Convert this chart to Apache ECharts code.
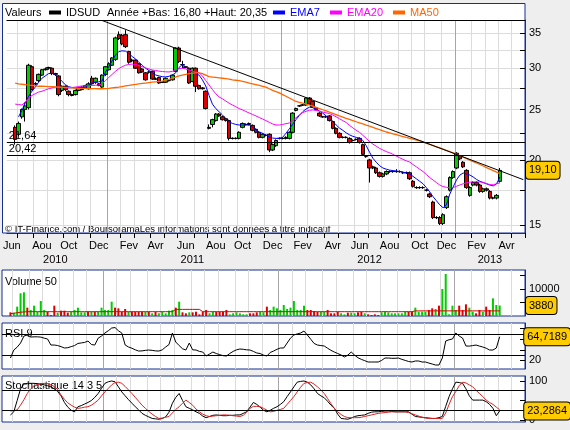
<!DOCTYPE html>
<html>
<head>
<meta charset="utf-8">
<title>IDSUD</title>
<script src="https://cdn.jsdelivr.net/npm/echarts@6.0.0/dist/echarts.min.js"></script>
<style>
  html, body { margin: 0; padding: 0; background: #eeeeee; }
  #chart { width: 570px; height: 430px; }
</style>
</head>
<body>
<div id="chart"></div>
<script>
// hebdo IDSUD, semaines a partir du lundi 7 juin 2010
const weekCount = 155
const monthNames = ['Jan','Fev','Mar','Avr','Mai','Jun','Jul','Aou','Sep','Oct','Nov','Dec']

const opens = [null,null,23.1,22.4,24.2,25.0,25.2,30.2,28.0,28.4,
29.1,29.8,30.0,30.0,29.3,29.0,27.2,27.7,27.1,26.7,
26.7,27.2,27.3,27.5,27.4,28.7,28.2,28.0,27.6,29.2,
29.8,30.4,31.2,34.8,34.7,34.8,32.3,31.0,31.1,30.6,
29.9,29.4,29.5,29.6,28.6,28.8,28.2,28.2,28.4,28.5,
29.6,32.8,30.5,30.2,30.0,28.3,30.0,27.8,27.5,27.1,
23.1,23.4,23.8,24.5,24.2,24.0,23.8,22.0,22.0,22.0,
23.1,23.4,23.4,23.3,22.9,22.6,22.1,22.3,22.4,20.9,
21.3,22.0,22.0,22.0,22.0,22.6,24.9,25.4,25.5,25.5,
26.3,25.9,25.2,24.6,24.2,24.2,24.3,23.7,23.0,22.5,
22.1,22.1,22.0,21.8,21.9,22.0,21.4,20.3,20.0,19.4,
19.3,18.9,18.6,18.8,19.0,19.0,19.0,19.0,18.9,18.9,
18.9,18.2,17.7,17.7,17.7,17.5,17.2,16.6,15.5,15.5,
15.1,16.2,17.5,18.5,19.3,20.35,19.8,19.1,17.1,17.9,
18.1,17.9,17.4,17.6,17.4,16.9,16.9,18.2]
const closes = [null,null,21.9,23.5,25.0,25.4,30.4,27.3,28.0,29.2,
29.8,29.9,30.1,29.3,29.2,26.7,27.7,27.3,26.7,26.6,
27.2,27.5,27.6,27.8,28.0,28.0,28.7,27.8,29.1,30.2,
30.6,31.4,34.3,34.2,33.4,33.0,30.8,31.1,30.0,29.4,
29.5,28.5,29.5,28.6,28.6,28.1,28.2,28.7,28.4,29.1,
32.8,30.9,30.5,30.1,28.1,30.0,27.7,27.4,27.4,25.1,
23.0,23.9,24.5,24.3,23.9,23.8,22.0,22.0,22.0,22.6,
23.5,23.4,23.5,22.8,22.6,22.1,22.4,22.3,20.9,21.4,
21.8,22.0,22.0,22.1,22.6,24.6,25.1,25.4,25.5,26.3,
25.6,25.3,25.0,24.3,24.2,24.2,23.8,23.0,22.5,22.1,
22.1,22.1,21.6,21.8,21.9,21.6,20.5,20.3,19.3,19.3,
18.9,18.6,18.8,19.0,19.0,19.0,19.0,19.0,18.9,18.9,
18.4,17.8,17.7,17.7,17.7,17.5,17.0,15.5,15.5,15.1,
15.7,17.0,18.5,19.0,20.6,20.1,19.4,17.7,17.7,18.1,
17.9,17.4,17.6,17.5,16.9,16.9,17.1,19.1]
const lows = [null,null,21.4,22.2,24.0,23.7,25.0,27.2,27.8,28.2,
29.0,29.7,29.8,29.1,29.0,26.5,27.0,27.1,26.5,26.5,
26.6,27.1,27.2,27.4,27.3,27.9,28.0,27.7,27.5,29.0,
29.7,30.3,31.0,34.0,33.2,32.8,30.6,30.8,29.9,29.3,
29.4,28.4,29.3,28.5,28.5,28.0,28.1,28.1,28.3,28.4,
29.5,30.7,30.0,30.0,28.0,28.2,27.0,27.3,27.3,25.0,
22.9,23.1,23.7,24.2,23.8,23.7,21.8,21.9,21.9,21.9,
23.0,23.3,23.3,22.7,22.5,22.0,22.0,22.2,20.7,20.8,
21.2,21.9,21.9,21.9,21.9,22.5,24.8,25.3,25.4,25.4,
25.5,25.2,24.9,24.2,24.1,24.1,23.7,22.9,22.4,22.0,
22.0,22.0,21.5,21.7,21.8,21.5,20.4,20.2,18.1,19.2,
18.8,18.5,18.5,18.7,18.9,18.9,18.9,18.9,18.8,18.8,
18.3,17.7,17.6,17.6,17.6,17.4,16.9,15.4,15.4,15.0,
15.0,16.1,17.4,18.4,19.2,20.0,19.3,17.6,17.0,17.8,
17.8,17.3,17.3,17.4,16.8,16.8,16.8,18.1]
const highs = [null,null,23.3,23.7,25.1,25.8,30.6,30.4,28.2,29.3,
29.9,30.1,30.2,30.1,29.4,29.1,27.8,27.8,27.2,26.8,
27.3,27.6,27.7,27.9,28.2,29.0,28.8,28.1,29.2,30.3,
30.8,31.5,34.5,35.3,34.9,35.5,32.4,31.3,31.2,30.7,
30.0,29.5,29.7,29.7,28.8,28.9,28.3,28.8,28.5,29.2,
32.9,33.0,31.0,30.3,30.1,30.1,30.1,27.9,27.6,27.2,
23.4,24.0,24.6,24.6,24.3,24.1,23.9,22.1,22.1,22.7,
23.6,23.5,23.6,23.4,23.0,22.7,22.5,22.4,22.5,21.5,
21.9,22.1,22.1,22.2,22.7,24.7,25.2,25.5,25.6,26.4,
26.4,26.0,25.3,24.7,24.3,24.3,24.4,23.8,23.1,22.6,
22.2,22.2,22.1,21.9,22.0,22.1,21.5,20.4,20.1,19.5,
19.4,19.0,18.9,19.1,19.1,19.1,19.2,19.1,19.0,19.0,
19.0,18.3,17.8,17.8,17.8,17.6,17.3,16.7,15.6,15.6,
15.8,17.1,18.6,19.1,20.7,20.35,19.9,19.2,17.8,18.2,
18.2,18.0,17.7,17.7,17.5,17.0,17.2,19.3]

const ema7 = [null,null,null,24.2,24.9,25.7,26.5,27.1,27.6,28.2,
28.7,29.0,29.3,29.35,29.15,28.8,28.3,27.9,27.65,27.55,
27.5,27.5,27.55,27.62,27.85,28.1,28.2,28.25,28.35,29.5,
30.2,31.0,31.8,32.3,32.4,32.35,32.0,31.6,31.25,30.8,
30.4,30.0,29.7,29.4,29.12,29.0,28.9,28.87,28.95,29.1,
29.4,30.1,30.5,30.2,29.77,29.5,29.3,29.1,28.5,27.74,
26.6,25.6,25.1,24.75,24.4,24.0,23.66,23.5,23.4,23.34,
23.34,23.34,23.34,23.1,22.85,22.63,22.5,22.33,22.15,22.03,
22.0,22.0,22.1,22.5,22.95,23.4,23.9,24.35,24.75,25.05,
25.25,25.2,25.0,24.83,24.6,24.3,24.0,23.7,23.35,23.03,
22.8,22.55,22.35,22.2,22.1,22.03,21.8,21.3,20.7,20.15,
19.8,19.5,19.3,19.2,19.12,19.08,19.05,19.0,18.95,18.9,
18.8,18.6,18.4,18.2,18.0,17.7,17.37,17.0,16.7,16.4,
16.19,16.4,17.2,17.75,18.3,18.7,18.88,18.8,18.71,18.55,
18.35,18.2,18.1,17.99,17.9,17.83,18.0,18.55]
const ema20 = [null,null,25.6,25.55,25.5,25.8,26.3,26.6,26.8,27.0,
27.1,27.25,27.4,27.5,27.6,27.6,27.55,27.52,27.5,27.55,
27.6,27.68,27.74,27.76,27.78,27.8,27.82,27.85,28.0,28.4,
28.8,29.2,29.6,29.95,30.2,30.4,30.5,30.55,30.5,30.35,
30.2,30.05,29.9,29.77,29.7,29.62,29.57,29.53,29.51,29.6,
29.8,29.95,30.0,29.9,29.75,29.6,29.5,29.4,29.0,28.4,
27.86,27.3,26.8,26.42,26.2,25.95,25.7,25.5,25.3,25.1,
24.95,24.78,24.61,24.45,24.3,24.13,23.97,23.8,23.62,23.45,
23.34,23.34,23.4,23.48,23.55,23.8,24.1,24.4,24.65,24.8,
24.9,24.95,24.9,24.82,24.72,24.63,24.55,24.4,24.2,24.0,
23.8,23.6,23.3,23.05,22.8,22.6,22.3,22.0,21.7,21.45,
21.25,21.05,20.9,20.75,20.65,20.5,20.35,20.2,20.05,19.92,
19.82,19.6,19.4,19.2,19.0,18.75,18.5,18.3,18.1,17.9,
17.78,17.72,17.68,17.7,17.8,17.9,18.0,18.08,18.13,18.15,
18.15,18.15,18.1,18.02,17.93,17.92,18.0,18.07]
const ma50 = [null,null,28.1,28.0,27.95,27.9,27.85,27.8,27.75,27.7,
27.7,27.68,27.66,27.64,27.62,27.6,27.58,27.56,27.53,27.5,
27.48,27.46,27.45,27.44,27.43,27.42,27.41,27.4,27.4,27.42,
27.45,27.5,27.55,27.6,27.67,27.74,27.8,27.87,27.93,28.0,
28.05,28.1,28.15,28.2,28.25,28.3,28.35,28.45,28.55,28.7,
28.85,29.0,29.1,29.2,29.28,29.34,29.38,29.4,29.3,29.1,
28.9,28.85,28.8,28.75,28.7,28.65,28.6,28.5,28.45,28.4,
28.3,28.2,28.1,28.0,27.9,27.8,27.7,27.6,27.4,27.2,
27.05,26.9,26.7,26.5,26.3,26.1,25.9,25.8,25.7,25.6,
25.5,25.37,25.24,25.1,24.97,24.84,24.7,24.57,24.44,24.3,
24.17,24.04,23.92,23.8,23.68,23.56,23.45,23.33,23.22,23.1,
22.98,22.86,22.75,22.63,22.54,22.45,22.36,22.27,22.18,22.09,
22.0,21.92,21.84,21.75,21.64,21.53,21.42,21.31,21.2,21.09,
20.98,20.87,20.76,20.64,20.51,20.38,20.25,20.12,19.99,19.86,
19.73,19.6,19.47,19.34,19.21,19.08,18.95,18.82]

const volumes = [null,null,1360,1235,3460,8400,8770,3090,2220,3830,
1600,5560,2220,1600,370,3830,1235,1980,1980,1235,
1600,2220,3090,1360,1360,1600,1600,1600,1600,3090,
2220,2220,5300,3090,2840,1600,2600,1600,1600,1600,
1600,1600,1600,1600,990,1600,990,1600,990,1980,
2220,3090,5300,1360,990,1360,1360,1600,620,1600,
2220,990,1600,1600,1600,1600,2220,620,990,1360,
990,620,620,990,990,1360,1600,1360,3460,2220,
3460,2840,2220,4080,2600,3090,5560,2220,2220,3830,
2220,2220,1850,1600,1600,1600,2220,990,990,1600,
990,620,1235,1235,990,1360,1600,990,620,370,
620,370,1360,1600,1360,990,990,990,990,1600,
1600,1600,3090,1600,1600,1600,2220,2840,2600,3830,
10000,15560,620,3830,2220,3830,2220,4320,3090,1600,
990,2220,1600,3460,2220,6540,4080,3880]
const volumeMa = [null,null,900,1000,1200,1400,1500,1600,1600,1600,
1600,1600,1600,1600,1600,1600,1600,1600,1600,1600,
1600,1600,1600,1600,1600,1600,1600,1600,1600,1600,
1600,1600,1600,1600,1600,1600,1600,1600,1600,1600,
1600,1600,1600,1600,1600,1600,1600,1600,1600,1600,
1600,2450,2450,2450,2450,2450,2450,2450,2450,1600,
1600,1600,1600,1600,1600,1600,1600,1600,1600,1600,
1600,1600,1600,1600,1600,1600,1600,1600,1600,1600,
1600,1600,1600,1600,1600,1600,1600,1600,1600,1600,
1600,1600,1600,1600,1600,1600,1600,1600,1600,1600,
1600,1600,1600,1600,1600,1600,1600,1600,1600,1600,
1600,1600,1600,1600,1600,1600,1600,1600,1600,1600,
1600,1600,1900,1900,1900,1900,1900,1900,1900,1900,
1900,1900,1900,1900,1900,1900,1900,1900,1900,1900,
1900,1900,1900,1900,1900,1900,1900,1900]

const rsi = [null,null,24.5,39.6,45,52.8,66,67.9,64.1,64.5,
64.5,64,62,60.4,49,49,48,46,43.4,44,
46,48,52,53,54,56.6,50,49,62,66,
71.7,76,81.1,82,76,71.7,49,45.3,43,40,
37.7,38,39,39.6,39,38,37.7,40,45.3,50,
71.7,54.7,48,42,39.6,52.8,40,39.6,37,35.8,
28.3,32,35.8,33,31,29,28.3,33,37,40,
41.5,41,40,39.6,37,34,33,30,28.3,35,
37.7,41,43.4,43.4,52.8,62,67.9,70,71.7,75.4,
67.9,60,52,49,48,47.2,43,39,35.8,33,
30.2,26.4,30,35.8,30,25,22,19.5,17,17,
17,17,20,24.5,24.5,24,24,24.5,22,20,
18,17,18.9,18.9,17,17,15,13.2,11.3,11.3,
24.5,56.6,59,60.4,71.7,66,62.2,47.2,47,48,
49,47,45.3,43,39.6,39.6,43.4,64.7189]
const stochK = [null,null,12.8,21,50,80,92,94,94,94,
93,92,90,88,85,80,73,62,45,33,
25,21,34,37,41,45,50,58,68,81,
94,98,100,98,85,72,62,52,43,34,
26,17,12,8,4,3,2,4,8,20,
43,58,68,50,34,30,26,21,17,10,
6,9,12,13,12,11,11,12,12,13,
13,17,21,33,45,40,33,25,21,25,
30,34,40,47,60,72,85,97,99,100,
97,90,80,68,62,57,48,38,30,15,
4,3,2,5,9,11,12,13,17,20,
21,21,22,23,23,22,21,21,21,21,
21,15,9,8,7,6,5,4,4,6,
9,35,60,80,97,96,94,80,62,51,
51,51,51,47,40,30,11,23.2864]
const stochD = [null,null,23,24,26,38,52,68,80,88,
91,93,94,93,90,86,78,64,53,44,
38,33,30,31,33,34,38,44,51,62,
72,81,90,96,97,94,86,77,68,58,
48,38,30,22,15,9,4,5,7,9,
18,27,34,43,51,45,38,28,21,15,
11,9,10,11,12,13,13,12,11,10,
9,12,20,30,35,35,34,30,25,21,
22,25,27,30,40,50,60,72,84,94,
96,97,92,85,77,68,55,42,30,21,
14,9,6,6,6,6,7,9,11,13,
15,17,18,19,20,21,21,21,21,21,
19,16,13,10,7,5,4,4,4,4,
4,18,40,60,73,88,97,95,90,85,
76,68,60,51,45,40,33,26]

const priceTicks = [15, 17.5, 20, 22.5, 25, 27.5, 30, 32.5, 35]
const priceLabels = [15, 20, 25, 30, 35]
const levels = [21.64, 20.42]
const trendStart = [28, 37.05]
const trendEnd = [154, 18.33]

// ---- categories (weeks)
const weeks = []
for (let i = 0; i < weekCount; i++) {
  weeks.push(new Date(Date.UTC(2010, 5, 7 + 7 * i)).toISOString().slice(0, 10))
}
function dayNear(i, from, to, day) {
  for (let k = from; k <= to; k++) {
    const d = new Date(Date.UTC(2010, 5, 7 + 7 * i + k))
    if (d.getUTCDate() === day) return d
  }
  return null
}
const isMonthStart = i => dayNear(i, -3, 3, 1) !== null
const isYearStart = i => { const d = dayNear(i, -3, 3, 1); return d !== null && d.getUTCMonth() === 0 }
const isMonthLabel = i => { const d = dayNear(i, 0, 6, 16); return d !== null && d.getUTCMonth() % 2 === 1 }
const byYear = {}
weeks.forEach((w, i) => { const y = w.slice(0, 4); (byYear[y] = byYear[y] || []).push(i) })
const yearLabelIdx = new Set(Object.values(byYear).map(a => a[Math.floor((a.length - 1) / 2)]))

const font = '"Liberation Sans", Arial, sans-serif'
const blue = '#14318f'
const lightGrid = '#dcdcdc'
const yearGrid = '#a6a6a6'
const comma = (v, n) => v.toFixed(n).replace('.', ',')

function xAxes(gridIndex, main) {
  const base = { type: 'category', gridIndex, data: weeks, boundaryGap: true }
  return [
    Object.assign({}, base, {
      axisLine: { show: main, lineStyle: { color: blue } },
      axisTick: { show: main, interval: i => isMonthStart(i), length: 5, lineStyle: { color: '#000' } },
      axisLabel: {
        show: main, interval: i => isMonthLabel(i), margin: 7, color: '#000', fontSize: 11, fontFamily: font,
        formatter: (v, i) => monthNames[dayNear(i, 0, 6, 16).getUTCMonth()]
      },
      splitLine: { show: true, interval: i => isMonthStart(i), lineStyle: { color: lightGrid } }
    }),
    Object.assign({}, base, {
      position: 'bottom', offset: 14,
      axisLine: { show: false }, axisTick: { show: false },
      axisLabel: { show: main, interval: i => yearLabelIdx.has(i), margin: 7, color: '#000', fontSize: 11, fontFamily: font,
        formatter: v => v.slice(0, 4) },
      splitLine: { show: true, interval: i => isYearStart(i), lineStyle: { color: yearGrid } }
    })
  ]
}

function lastBox(value, text) {
  return {
    show: true, type: 'line', value, status: 'show', triggerTooltip: false,
    lineStyle: { opacity: 0 },
    label: { show: true, formatter: () => text, backgroundColor: '#ffcc00', borderColor: '#000', borderWidth: 1,
      color: '#000', fontSize: 11, fontFamily: font, padding: [3, 3, 3, 3], margin: 1 }
  }
}
function sideAxis(gridIndex, min, max, ticks, labels, type) {
  return {
    type: type || 'value', gridIndex, min, max, position: 'right',
    axisLine: { show: true, lineStyle: { color: blue } },
    axisTick: { show: true, inside: true, length: 5, customValues: ticks, lineStyle: { color: '#000' } },
    axisLabel: { customValues: labels, margin: 4, color: '#000', fontSize: 11, fontFamily: font, formatter: v => String(v) },
    splitLine: { show: false }
  }
}

const lastClose = closes[closes.length - 1]
const candleData = opens.map((o, i) => o == null ? '-' : [o, closes[i], lows[i], highs[i]])
const volumeData = volumes.map((v, i) => v == null ? '-' : {
  value: v, itemStyle: { color: closes[i] >= opens[i] ? '#00cc00' : '#dd0000' }
})

const priceAxis = sideAxis(0, 14.48, 37.13, priceTicks, priceLabels, 'log')
priceAxis.logBase = 10
priceAxis.splitLine = { show: true, lineStyle: { color: lightGrid } }
priceAxis.axisPointer = lastBox(lastClose, comma(lastClose, 2))
const volAxis = sideAxis(1, 0, 17037, [5000, 10000, 15000], [10000])
volAxis.axisPointer = lastBox(volumes[volumes.length - 1], String(volumes[volumes.length - 1]))
const rsiAxis = sideAxis(2, 3.8, 90.6, [20, 40, 60, 80], [20])
rsiAxis.axisPointer = lastBox(rsi[rsi.length - 1], comma(rsi[rsi.length - 1], 4))
const stochAxis = sideAxis(3, -5.13, 112.8, [0, 50, 100], [0, 100])
stochAxis.axisPointer = lastBox(stochK[stochK.length - 1], comma(stochK[stochK.length - 1], 4))

const blackLines = vals => ({
  silent: true, symbol: 'none', animation: false, label: { show: false },
  lineStyle: { color: '#000', width: 1, type: 'solid' },
  data: vals.map(v => ({ yAxis: v }))
})
const panelGrid = top => ({ left: 2, right: 45, top, height: 46, show: true, backgroundColor: '#fff', borderColor: blue, borderWidth: 1 })
const txt = (left, top, text, size) => ({ type: 'text', left, top, silent: true,
  style: { text, fill: '#000', fontSize: size || 11, fontFamily: font } })

const chart = echarts.init(document.getElementById('chart'))
chart.setOption({
  animation: false,
  backgroundColor: '#eeeeee',
  textStyle: { fontFamily: font },
  graphic: [
    { type: 'rect', z: -10, silent: true, shape: { x: 2.5, y: 3.5, width: 522.5, height: 229.5 },
      style: { fill: '#fff', stroke: blue, lineWidth: 1 } },
    txt(5, 7, 'Valeurs'),
    txt(107, 7, 'Année +Bas: 16,80 +Haut: 20,35'),
    txt(5, 224, '© IT-Finance.com / BoursoramaLes informations sont données à titre indicatif', 9.5),
    txt(5, 276, 'Volume 50'),
    txt(5, 328, 'RSI 9'),
    txt(5, 380, 'Stochastique 14 3 5')
  ],
  legend: [
    { left: 44, top: 2, itemWidth: 12, itemHeight: 4, selectedMode: false,
      textStyle: { fontSize: 11, color: '#000', fontFamily: font },
      data: [{ name: 'IDSUD', icon: 'rect', itemStyle: { color: '#000', borderWidth: 0 } }] },
    { left: 268, top: 2, itemWidth: 12, itemHeight: 4, itemGap: 10, selectedMode: false,
      textStyle: { fontSize: 11, fontFamily: font },
      data: [
        { name: 'EMA7', icon: 'rect', textStyle: { color: '#0000ff' } },
        { name: 'EMA20', icon: 'rect', textStyle: { color: '#ff00ff' } },
        { name: 'MA50', icon: 'rect', textStyle: { color: '#ff6600' } }
      ] }
  ],
  grid: [
    { left: 2, right: 45, top: 20, height: 213 },
    panelGrid(270), panelGrid(323), panelGrid(376)
  ],
  xAxis: [].concat(
    xAxes(0, true),
    [{ type: 'category', gridIndex: 0, data: weeks, position: 'top',
       axisLine: { lineStyle: { color: '#000' } }, axisTick: { show: false }, axisLabel: { show: false } }],
    xAxes(1, false), xAxes(2, false), xAxes(3, false)
  ),
  yAxis: [priceAxis, volAxis, rsiAxis, stochAxis],
  series: [
    {
      name: 'IDSUD', type: 'candlestick', xAxisIndex: 0, yAxisIndex: 0, data: candleData, barWidth: 4,
      itemStyle: { color: '#00cc00', color0: '#dd0000', borderColor: '#000', borderColor0: '#000',
        borderColorDoji: '#000', borderWidth: 1 },
      markLine: {
        silent: true, symbol: 'none', animation: false,
        lineStyle: { color: '#000', width: 1, type: 'solid' },
        label: { show: false },
        data: [
          [{ coord: [weeks[trendStart[0]], trendStart[1]] }, { coord: [weeks[trendEnd[0]], trendEnd[1]] }]
        ].concat(levels.map(v => ({
          yAxis: v,
          label: { show: true, position: 'insideStartTop', formatter: comma(v, 2), color: '#000',
            fontSize: 11, fontFamily: font, distance: [2, 1] }
        })))
      }
    },
    { name: 'EMA7', type: 'line', xAxisIndex: 0, yAxisIndex: 0, data: ema7, showSymbol: false, silent: true,
      itemStyle: { color: '#0000ff' }, lineStyle: { color: '#0000ff', width: 1 } },
    { name: 'EMA20', type: 'line', xAxisIndex: 0, yAxisIndex: 0, data: ema20, showSymbol: false, silent: true,
      itemStyle: { color: '#ff00ff' }, lineStyle: { color: '#ff00ff', width: 1 } },
    { name: 'MA50', type: 'line', xAxisIndex: 0, yAxisIndex: 0, data: ma50, showSymbol: false, silent: true,
      itemStyle: { color: '#ff6600' }, lineStyle: { color: '#ff6600', width: 1.3 } },
    { name: 'Volume', type: 'bar', xAxisIndex: 3, yAxisIndex: 1, data: volumeData, barWidth: 2, silent: true },
    { name: 'Volume 50', type: 'line', xAxisIndex: 3, yAxisIndex: 1, data: volumeMa, showSymbol: false, silent: true,
      lineStyle: { color: '#dd0000', width: 1 } },
    { name: 'RSI', type: 'line', xAxisIndex: 5, yAxisIndex: 2, data: rsi, showSymbol: false, silent: true,
      lineStyle: { color: '#000', width: 1 }, markLine: blackLines([30, 70]) },
    { name: 'K', type: 'line', xAxisIndex: 7, yAxisIndex: 3, data: stochK, showSymbol: false, silent: true,
      lineStyle: { color: '#000', width: 1 }, markLine: blackLines([25, 75]) },
    { name: 'D', type: 'line', xAxisIndex: 7, yAxisIndex: 3, data: stochD, showSymbol: false, silent: true,
      lineStyle: { color: '#dd2222', width: 1 } }
  ]
})
</script>
</body>
</html>
